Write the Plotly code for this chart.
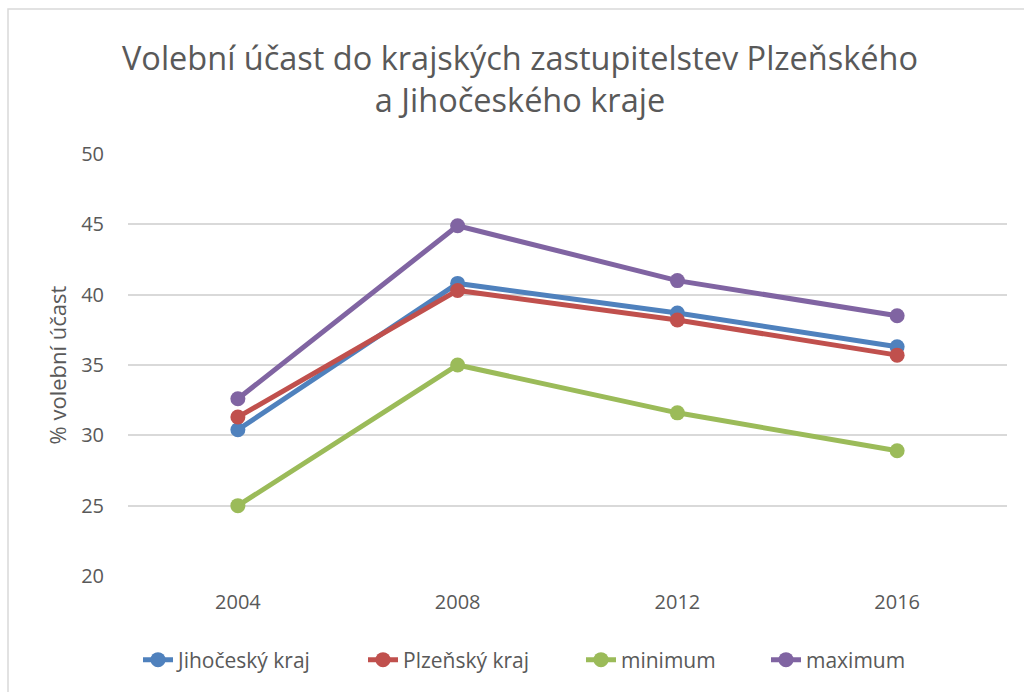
import plotly.graph_objects as go

years = ["2004", "2008", "2012", "2016"]
jihocesky = [30.4, 40.8, 38.7, 36.3]
plzensky = [31.3, 40.3, 38.2, 35.7]
minimum = [25.0, 35.0, 31.6, 28.9]
maximum = [32.6, 44.9, 41.0, 38.5]

series_names = ["Jihočeský kraj", "Plzeňský kraj", "minimum", "maximum"]
series_values = [jihocesky, plzensky, minimum, maximum]
colors = ["#4F81BD", "#C0504D", "#9BBB59", "#8064A2"]

y_ticks = [20, 25, 30, 35, 40, 45, 50]

FONT = "Open Sans"
TXT = "#595959"

W, H = 1024, 692
L, R, T, B = 128, 17, 154, 116
pw, ph = W - L - R, H - T - B

# legend entry left positions (pixels)
legend_px = [138, 363, 581, 766]
legend_ids = ["legend", "legend2", "legend3", "legend4"]

fig = go.Figure()
for name, vals, col, lid in zip(series_names, series_values, colors, legend_ids):
    fig.add_trace(go.Scatter(
        x=years, y=vals, name=name, mode="lines+markers",
        line=dict(color=col, width=5),
        marker=dict(color=col, size=15),
        legend=lid,
    ))

legend_layout = {}
for lid, px in zip(legend_ids, legend_px):
    legend_layout[lid] = dict(
        orientation="h", x=(px - L) / pw, xanchor="left",
        y=(576 - 660) / ph, yanchor="middle",
        font=dict(size=21, color=TXT, family=FONT),
        bgcolor="rgba(0,0,0,0)",
    )

fig.update_layout(
    width=W, height=H,
    margin=dict(l=L, r=R, t=T, b=B),
    paper_bgcolor="white", plot_bgcolor="white",
    font=dict(family=FONT, color=TXT),
    title=dict(
        text="Volební účast do krajských zastupitelstev Plzeňského<br>a Jihočeského kraje",
        x=(520 - L) / pw, xref="paper", xanchor="center",
        y=1 - 70 / H, yanchor="middle",
        font=dict(size=32.5, color=TXT, family=FONT),
    ),
    xaxis=dict(
        type="category", range=[-0.5, 3.5],
        showgrid=False, showline=False, zeroline=False,
        ticks="outside", ticklen=8, tickcolor="rgba(0,0,0,0)",
        tickfont=dict(size=20, color=TXT),
    ),
    yaxis=dict(
        range=[20, 50], tickvals=y_ticks,
        showgrid=True, gridcolor="#D9D9D9", gridwidth=1.8,
        zeroline=False, showline=False,
        ticks="outside", ticklen=19, tickcolor="rgba(0,0,0,0)",
        tickfont=dict(size=20, color=TXT),
        title=dict(text="% volební účast", font=dict(size=22, color=TXT), standoff=8),
    ),
    showlegend=True,
    **legend_layout,
)

# chart border (light gray frame)
fig.add_shape(
    type="rect", xref="paper", yref="paper",
    x0=(8 - L) / pw, x1=(1040 - L) / pw,
    y0=(576 - 700) / ph, y1=(576 - 9) / ph,
    line=dict(color="#D9D9D9", width=1.5), fillcolor="rgba(0,0,0,0)",
    layer="below",
)

fig.write_html("out.html", config={"displayModeBar": False},
               post_script="document.body.style.margin='0';")
